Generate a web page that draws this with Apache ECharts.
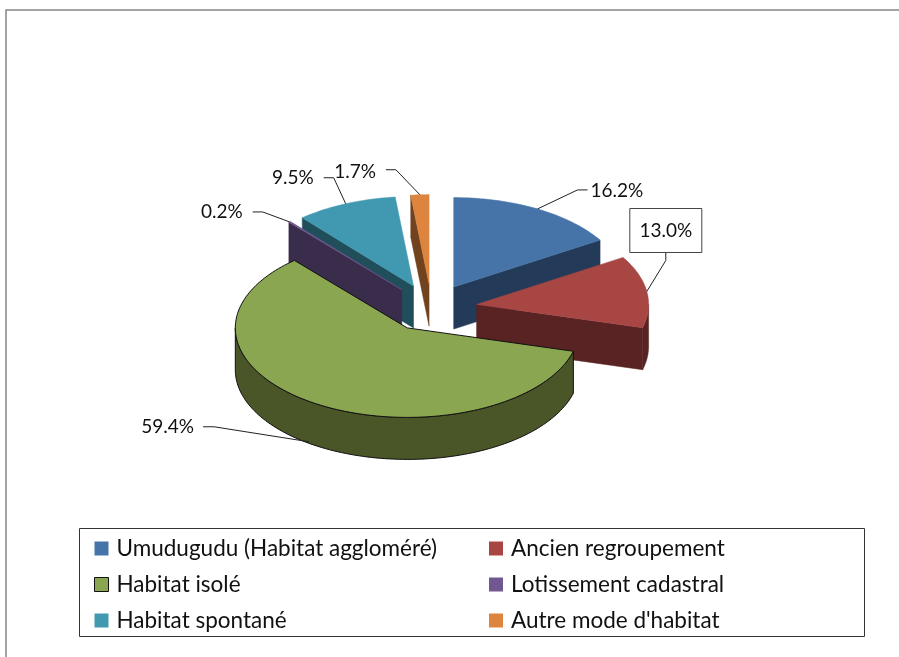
<!DOCTYPE html>
<html>
<head>
<meta charset="utf-8">
<style>
html, body { margin: 0; padding: 0; background: #fff; }
#main { width: 899px; height: 657px; }
</style>
<script src="https://cdn.jsdelivr.net/npm/echarts@6/dist/echarts.min.js"></script>
</head>
<body>
<div id="main"></div>
<script>
var categories = ['Umudugudu (Habitat aggloméré)', 'Ancien regroupement', 'Habitat isolé', 'Lotissement cadastral', 'Habitat spontané', "Autre mode d'habitat"];
var shares = [16.2, 13.0, 59.4, 0.2, 9.5, 1.7];

// couleurs du dessus et de la tranche
var topColors = ['#4674a8', '#a84644', '#8ba650', '#71578f', '#4099b0', '#dd843e'];
var sideColors = ['#233a58', '#582322', '#4a5528', '#3a2c4b', '#214e5b', '#70421e'];
var drawOrder = [1, 5, 6, 4, 3, 2];

// geometrie du camembert "3D"
var pie = { x: 431.5, y: 307.8, rx: 172, ry: 89.5, depth: 42, explode: 0.265 };

// etiquettes : decalages par rapport au point d'accroche sur le bord de la part
var labelLines = [
    { elbow: [40, -19], end: [50, -19], text: [53, -18], align: 'left' },
    { elbow: [19, -31], end: [19, -39], text: [19, -61], align: 'center', box: true },
    { elbow: [-95, -15], end: [-106, -15], text: [-115, -15], align: 'right' },
    { elbow: [-27, -10], end: [-37, -10], text: [-47, -10], align: 'right' },
    { elbow: [-12, -26], end: [-22, -26], text: [-32, -26], align: 'right' },
    { elbow: [-24, -25], end: [-34, -25], text: [-44, -23], align: 'right' }
];

var fontName = 'Lato, "Open Sans", sans-serif';

function startAngle(i) {
    var sum = 0;
    for (var k = 0; k < i; k++) sum += shares[k];
    return sum * 3.6;
}

// point du bord pour un angle en degres (0 = midi, sens horaire)
function rimPoint(c, deg, dz) {
    var a = deg * Math.PI / 180;
    return [c.x + pie.rx * Math.sin(a), c.y - pie.ry * Math.cos(a) + (dz || 0)];
}

function arcPoints(c, from, to, dz) {
    var pts = [];
    var n = Math.max(2, Math.ceil((to - from) / 1.5));
    for (var k = 0; k <= n; k++) pts.push(rimPoint(c, from + (to - from) * k / n, dz));
    return pts;
}

function face(points, fill, outline) {
    return {
        type: 'polygon',
        shape: { points: points },
        style: { fill: fill, stroke: outline || fill, lineWidth: outline ? 1 : 0.5, lineJoin: 'round' }
    };
}

function renderSlice(i, api) {
    var value = api.value(0);
    var a0 = startAngle(i);
    var a1 = a0 + value * 3.6;
    var mid = (a0 + a1) / 2 * Math.PI / 180;
    var c = {
        x: pie.x + pie.explode * pie.rx * Math.sin(mid),
        y: pie.y - pie.explode * pie.ry * Math.cos(mid)
    };
    var side = sideColors[i];
    var outline = categories[i] === 'Habitat isolé' ? '#111' : null;
    var children = [];
    var apex = [c.x, c.y];
    var apexLow = [c.x, c.y + pie.depth];

    // flanc exterieur, seulement la partie tournee vers nous
    var f0 = Math.max(a0, 90), f1 = Math.min(a1, 270);
    if (f1 > f0) {
        var top = arcPoints(c, f0, f1, 0);
        var low = arcPoints(c, f0, f1, pie.depth).reverse();
        children.push(face(top.concat(low), side, outline));
    }
    // faces de coupe
    if (Math.sin(a0 * Math.PI / 180) < -0.001) {
        children.push(face([apex, rimPoint(c, a0), rimPoint(c, a0, pie.depth), apexLow], side));
    }
    if (Math.sin(a1 * Math.PI / 180) > 0.001) {
        children.push(face([apex, rimPoint(c, a1), rimPoint(c, a1, pie.depth), apexLow], side, outline));
    }
    // dessus
    children.push(face([apex].concat(arcPoints(c, a0, a1, 0)), topColors[i], outline));

    return { type: 'group', children: children };
}

function renderLabel(i, api) {
    var value = api.value(0);
    var a0 = startAngle(i);
    var midDeg = a0 + value * 1.8;
    var mid = midDeg * Math.PI / 180;
    var c = {
        x: pie.x + pie.explode * pie.rx * Math.sin(mid),
        y: pie.y - pie.explode * pie.ry * Math.cos(mid)
    };
    // la part verte est accrochee sur le bas de son flanc
    var anchor = rimPoint(c, midDeg, Math.cos(mid) < -0.5 ? pie.depth : 0);
    if (Math.cos(mid) < -0.5) { anchor = [anchor[0] - 7, anchor[1] - 4]; }
    var cfg = labelLines[i];
    var kids = [{
        type: 'polyline',
        shape: { points: [anchor, [anchor[0] + cfg.elbow[0], anchor[1] + cfg.elbow[1]], [anchor[0] + cfg.end[0], anchor[1] + cfg.end[1]]] },
        style: { fill: null, stroke: '#222', lineWidth: 1 }
    }];
    if (cfg.box) {
        kids.push({
            type: 'rect',
            shape: { x: anchor[0] + cfg.text[0] - 36, y: anchor[1] + cfg.text[1] - 22, width: 72, height: 44 },
            style: { fill: '#fff', stroke: '#444', lineWidth: 1 }
        });
    }
    kids.push({
        type: 'text',
        x: anchor[0] + cfg.text[0],
        y: anchor[1] + cfg.text[1],
        style: {
            text: value.toFixed(1) + '%',
            font: '19px ' + fontName,
            fill: '#111',
            align: cfg.align,
            verticalAlign: 'middle'
        }
    });
    return { type: 'group', children: kids };
}

function legendEntries(list) {
    return list.map(function (i) {
        return {
            name: categories[i],
            icon: 'rect',
            itemStyle: {
                color: topColors[i],
                borderColor: categories[i] === 'Habitat isolé' ? '#111' : topColors[i],
                borderWidth: categories[i] === 'Habitat isolé' ? 1 : 0
            }
        };
    });
}

var legendBase = {
    orient: 'vertical',
    top: 532,
    itemWidth: 14,
    itemHeight: 14,
    itemGap: 13,
    selectedMode: false,
    textStyle: { fontFamily: fontName, fontSize: 22.5, color: '#111', padding: [0, 0, 0, 3] }
};

var series = [];
categories.forEach(function (name, i) {
    series.push({
        type: 'custom',
        name: name,
        coordinateSystem: 'none',
        z: drawOrder[i] + 2,
        silent: true,
        animation: false,
        itemStyle: { color: topColors[i] },
        data: [[shares[i]]],
        renderItem: function (params, api) { return renderSlice(i, api); }
    });
    series.push({
        type: 'custom',
        coordinateSystem: 'none',
        z: 20,
        silent: true,
        animation: false,
        data: [[shares[i]]],
        renderItem: function (params, api) { return renderLabel(i, api); }
    });
});

var myChart = echarts.init(document.getElementById('main'), null, { renderer: 'canvas' });
myChart.setOption({
    backgroundColor: '#fff',
    animation: false,
    legend: [
        Object.assign({}, legendBase, { left: 89, data: legendEntries([0, 2, 4]) }),
        Object.assign({}, legendBase, { left: 484, data: legendEntries([1, 3, 5]) })
    ],
    graphic: [
        // cadre gris du graphique, coupe par la fenetre
        { type: 'polyline', z: 0, shape: { points: [[6, 657], [6, 10], [899, 10]] }, style: { fill: null, stroke: '#868686', lineWidth: 1.5 } },
        // boite de la legende
        { type: 'rect', z: 0, shape: { x: 79.5, y: 528.5, width: 785, height: 108 }, style: { fill: '#fff', stroke: '#333', lineWidth: 1 } }
    ],
    series: series
});
</script>
</body>
</html>
